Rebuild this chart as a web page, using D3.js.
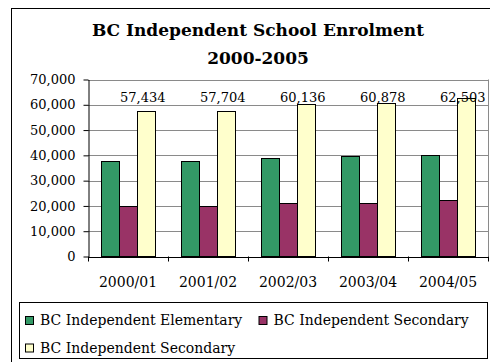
<!DOCTYPE html>
<html><head><meta charset="utf-8">
<script src="https://cdn.jsdelivr.net/npm/d3@7"></script>
<style>body{margin:0;background:#fff}svg{display:block}text{font-family:"DejaVu Serif",serif;fill:#000}</style>
</head><body><svg id="c" width="490" height="362"></svg>
<script>
const categories = ["2000/01","2001/02","2002/03","2003/04","2004/05"];
const seriesNames = ["BC Independent Elementary","BC Independent Secondary","BC Independent Secondary"];
const elementary = [37600, 37600, 39100, 39700, 40200];
const secondary = [19834, 20104, 21036, 21178, 22303];
const total = [57434, 57704, 60136, 60878, 62503];
const yTicks = [0,10000,20000,30000,40000,50000,60000,70000];
const colors = ["#339966","#993366","#FFFFCC"];
const titleLines = ["BC Independent School Enrolment","2000-2005"];

const svg = d3.select("#c");
const fmt = d3.format(",");
// outer frame
svg.append("rect").attr("x",11.5).attr("y",8.5).attr("width",520).attr("height",400).attr("fill","#fff").attr("stroke","#000");

svg.selectAll("text.title").data(titleLines).join("text").attr("class","title")
  .attr("x",258).attr("y",(d,i)=>36+i*28).attr("text-anchor","middle")
  .attr("font-size",17).attr("font-weight","bold").text(d=>d);

const L=88, R=488, T=79.5, B=256.5;
const y = d3.scaleLinear().domain([0,70000]).range([B,T]);
const x0 = d3.scaleBand().domain(categories).range([L,R]).padding(0);
const x1 = d3.scaleBand().domain([0,1,2]).range([0,x0.bandwidth()]).paddingInner(0).paddingOuter(0.75);

// gridlines
svg.append("g").selectAll("line").data(yTicks.filter(t=>t>0)).join("line")
  .attr("x1",L).attr("x2",R).attr("y1",d=>Math.round(y(d))+0.5).attr("y2",d=>Math.round(y(d))+0.5)
  .attr("stroke","#8a8a8a");
svg.append("line").attr("x1",R+0.5).attr("x2",R+0.5).attr("y1",T).attr("y2",B).attr("stroke","#8a8a8a");

const data = categories.map((c,i)=>({c, v:[elementary[i],secondary[i],total[i]]}));
const g = svg.append("g").selectAll("g").data(data).join("g").attr("transform",d=>`translate(${x0(d.c)},0)`);
g.selectAll("rect").data(d=>d.v.map((v,k)=>({v,k}))).join("rect")
  .attr("x",d=>Math.round(x1(d.k))+0.5).attr("width",Math.round(x1.bandwidth()))
  .attr("y",d=>Math.round(y(d.v))+0.5).attr("height",d=>B-Math.round(y(d.v))-0.5)
  .attr("fill",d=>colors[d.k]).attr("stroke","#000").attr("stroke-width",1);
// data labels
g.append("text").attr("x",x1(2)+x1.bandwidth()/2-3).attr("y",101.5).attr("text-anchor","middle")
  .attr("font-size",13).text(d=>fmt(d.v[2]));

// y axis
const ya = svg.append("g").attr("transform",`translate(${L+0.5},0)`).call(d3.axisLeft(y).tickValues(yTicks).tickFormat(fmt).tickSize(5).tickSizeOuter(0));
ya.select(".domain").attr("stroke","#000");
ya.selectAll(".tick text").attr("font-family","DejaVu Serif").attr("font-size",13).attr("x",-13).attr("fill","#000");
// x axis
const xa = svg.append("g").attr("transform",`translate(0,${B+0.5})`).call(d3.axisBottom(x0).tickSize(0).tickSizeOuter(0));
xa.select(".domain").attr("stroke","#000");
xa.selectAll(".tick text").attr("font-family","DejaVu Serif").attr("font-size",14).attr("dy",0).attr("y",30).attr("fill","#000");
svg.append("g").selectAll("line").data(categories.concat(["end"])).join("line")
  .attr("x1",(d,i)=>Math.round(L+i*x0.step())+0.5).attr("x2",(d,i)=>Math.round(L+i*x0.step())+0.5)
  .attr("y1",B).attr("y2",B+5).attr("stroke","#000");

// legend
svg.append("rect").attr("x",19.5).attr("y",302.5).attr("width",468).attr("height",56).attr("fill","#fff").attr("stroke","#000");
const legPos = [[25,316],[258.5,316],[25,343.5]];
const lg = svg.append("g").selectAll("g").data(seriesNames).join("g").attr("transform",(d,i)=>`translate(${legPos[i][0]},${legPos[i][1]})`);
lg.append("rect").attr("x",0.5).attr("y",0.5).attr("width",8).attr("height",8).attr("fill",(d,i)=>colors[i]).attr("stroke","#000");
lg.append("text").attr("x",15).attr("y",9).attr("font-size",14).text(d=>d);
</script></body></html>
